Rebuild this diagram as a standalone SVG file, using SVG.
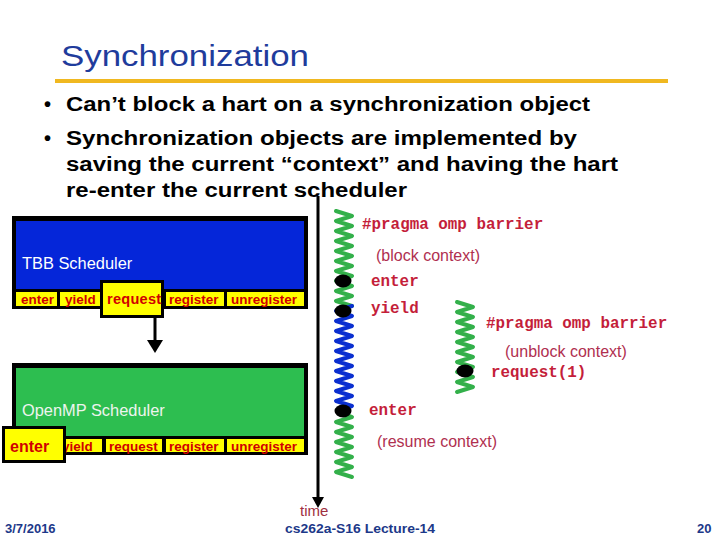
<svg xmlns="http://www.w3.org/2000/svg" width="720" height="540" viewBox="0 0 720 540">
<style>
.title{font-family:"Liberation Sans",Arial,sans-serif;font-size:29px;fill:#1f3c9c}
.bul{font-family:"Liberation Sans",Arial,sans-serif;font-size:20px;font-weight:bold;fill:#000}
.cell{font-family:"Liberation Sans",Arial,sans-serif;font-size:13.5px;font-weight:bold;fill:#d00000}
.mono{font-family:"Liberation Mono","Courier New",monospace;font-size:15.9px;font-weight:bold;fill:#c41e3a}
.note{font-family:"Liberation Sans",Arial,sans-serif;font-size:16px;fill:#b03050}
.foot{font-family:"Liberation Sans",Arial,sans-serif;font-size:13px;font-weight:bold;fill:#1c3889}
.sched{font-family:"Liberation Sans",Arial,sans-serif;font-size:16.4px;fill:#fff}
.yc{fill:#ffff00}
.zg{fill:none;stroke:#33b04a;stroke-width:4;stroke-linejoin:round;stroke-linecap:round}
.zb{fill:none;stroke:#0a2fd0;stroke-width:4;stroke-linejoin:round;stroke-linecap:round}
.dot{fill:#000}
</style>
<rect width="720" height="540" fill="#fff"/>
<text class="title" x="61" y="66" textLength="248" lengthAdjust="spacingAndGlyphs">Synchronization</text>
<rect x="55" y="79" width="613" height="4" fill="#f0b820"/>
<g id="bullets">
<text class="bul" x="44" y="111">•</text>
<text class="bul" x="66" y="111" textLength="524" lengthAdjust="spacingAndGlyphs">Can’t block a hart on a synchronization object</text>
<text class="bul" x="44" y="145">•</text>
<text class="bul" x="66" y="145" textLength="511" lengthAdjust="spacingAndGlyphs">Synchronization objects are implemented by</text>
<text class="bul" x="66" y="171" textLength="552" lengthAdjust="spacingAndGlyphs">saving the current “context” and having the hart</text>
<text class="bul" x="66" y="197" textLength="341" lengthAdjust="spacingAndGlyphs">re-enter the current scheduler</text>
</g>
<g id="connectors">
<line x1="318" y1="196" x2="318" y2="498" stroke="#000" stroke-width="3"/>
<path d="M312,497 L324,497 L318,508 Z" fill="#000"/>
<line x1="155" y1="318" x2="155" y2="342" stroke="#000" stroke-width="3"/>
<path d="M147,340 L163,340 L155,353 Z" fill="#000"/>
</g>
<g id="tbb">
<rect x="12" y="216" width="296" height="93" fill="#000"/>
<rect x="16" y="221" width="288" height="68" fill="#0526d9"/>
<text class="sched" x="22" y="269">TBB Scheduler</text>
<rect class="yc" x="16" y="292" width="41" height="14"/>
<rect class="yc" x="60" y="292" width="40" height="14"/>
<rect class="yc" x="166" y="292" width="58" height="14"/>
<rect class="yc" x="227" y="292" width="77" height="14"/>
<text class="cell" x="21" y="304">enter</text>
<text class="cell" x="65" y="304">yield</text>
<text class="cell" x="169" y="304">register</text>
<text class="cell" x="231" y="304">unregister</text>
<rect x="101.5" y="281.5" width="61" height="35" fill="#ffff00" stroke="#000" stroke-width="3"/>
<text class="cell" x="107" y="304" style="font-size:14.5px;letter-spacing:0.3px">request</text>
</g>
<g id="openmp">
<rect x="12" y="363" width="296" height="92" fill="#000"/>
<rect x="16" y="368" width="288" height="68" fill="#2dbe50"/>
<text class="sched" x="22" y="416" style="fill:#eef4ee">OpenMP Scheduler</text>
<rect class="yc" x="60" y="439" width="42" height="13"/>
<rect class="yc" x="106" y="439" width="56" height="13"/>
<rect class="yc" x="166" y="439" width="58" height="13"/>
<rect class="yc" x="227" y="439" width="77" height="13"/>
<text class="cell" x="62" y="451">yield</text>
<text class="cell" x="109" y="451">request</text>
<text class="cell" x="169" y="451">register</text>
<text class="cell" x="231" y="451">unregister</text>
<rect x="3.5" y="427.5" width="61" height="34" fill="#ffff00" stroke="#000" stroke-width="3"/>
<text class="cell" x="10" y="452" style="font-size:16px">enter</text>
</g>
<g id="timeline1">
<path class="zg" d="M336,211 L352,216 L336,221 L352,226 L336,231 L352,236 L336,241 L352,246 L336,251 L352,256 L336,261 L352,266 L336,271 L352,276 L336,281 L352,286 L336,291 L352,296 L336,301 L352,306"/>
<path class="zb" d="M352,306 L336,311 L352,316 L336,321 L352,326 L336,331 L352,336 L336,341 L352,346 L336,351 L352,356 L336,361 L352,366 L336,371 L352,376 L336,381 L352,386 L336,391 L352,396 L336,401 L352,406 L340,410"/>
<path class="zg" d="M340,412 L352,417 L336,422 L352,427 L336,432 L352,437 L336,442 L352,447 L336,452 L352,457 L336,462 L352,467 L336,472 L352,477"/>
<ellipse class="dot" cx="343" cy="281" rx="8.5" ry="6.5"/>
<ellipse class="dot" cx="343" cy="311" rx="8.5" ry="6.5"/>
<ellipse class="dot" cx="343" cy="411" rx="8.5" ry="6.5"/>
</g>
<g id="timeline2">
<path class="zg" d="M457,302 L473,307 L457,312 L473,317 L457,322 L473,327 L457,332 L473,337 L457,342 L473,347 L457,352 L473,357 L457,362 L473,367 L457,372 L473,377 L457,382 L473,387 L457,392"/>
<ellipse class="dot" cx="465" cy="371" rx="8.5" ry="6.5"/>
</g>
<g id="labels">
<text class="mono" x="362" y="229">#pragma omp barrier</text>
<text class="note" x="376" y="261">(block context)</text>
<text class="mono" x="371" y="286">enter</text>
<text class="mono" x="371" y="313">yield</text>
<text class="mono" x="486" y="328">#pragma omp barrier</text>
<text class="note" x="505" y="357">(unblock context)</text>
<text class="mono" x="491" y="377">request(1)</text>
<text class="mono" x="369" y="415">enter</text>
<text class="note" x="377" y="447">(resume context)</text>
<text class="note" x="300" y="516" style="fill:#a03040;font-size:15px">time</text>
</g>
<g id="footer">
<text class="foot" x="5" y="533">3/7/2016</text>
<text class="foot" x="360" y="533" text-anchor="middle" textLength="150" lengthAdjust="spacingAndGlyphs">cs262a-S16 Lecture-14</text>
<text class="foot" x="697" y="533">20</text>
</g>
</svg>
